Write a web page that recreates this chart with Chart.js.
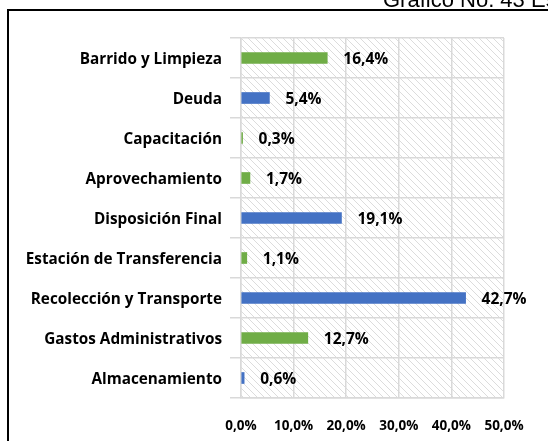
<!DOCTYPE html>
<html lang="es">
<head>
<meta charset="UTF-8">
<title>Gráfico No. 43</title>
<script src="https://cdn.jsdelivr.net/npm/chart.js"></script>
<style>
    html, body { margin: 0; padding: 0; background: #fff; }
    canvas { display: block; }
</style>
</head>
<body>
<canvas id="grafico" width="548" height="441"></canvas>
<script>
    // datos (porcentaje del costo total)
    const categorias = [
        "Barrido y Limpieza",
        "Deuda",
        "Capacitación",
        "Aprovechamiento",
        "Disposición Final",
        "Estación de Transferencia",
        "Recolección y Transporte",
        "Gastos Administrativos",
        "Almacenamiento"
    ];
    const porcentajes = [16.4, 5.4, 0.3, 1.7, 19.1, 1.1, 42.7, 12.7, 0.6];
    const ticksX = [0, 10, 20, 30, 40, 50];
    const tituloTexto = "Gráfico No. 43 Estructura de costos";

    const verde = "#70AD47";
    const azul = "#4472C4";
    const coloresBarras = [verde, azul, verde, verde, azul, verde, azul, verde, azul];
    const gris = "#d9d9d9";
    const fuente = "'Open Sans'";

    const fmt = v => v.toFixed(1).replace(".", ",") + "%";

    function crearTrama() {
        const c = document.createElement("canvas");
        c.width = 7; c.height = 7;
        const g = c.getContext("2d");
        g.fillStyle = "#fff";
        g.fillRect(0, 0, 7, 7);
        g.strokeStyle = "#dcdcdc";
        g.lineWidth = 1;
        g.beginPath();
        g.moveTo(-1, -1); g.lineTo(8, 8);
        g.moveTo(-1, 6); g.lineTo(1, 8);
        g.moveTo(6, -1); g.lineTo(8, 1);
        g.stroke();
        return g.createPattern(c, "repeat");
    }

    const fondoTrama = {
        id: "fondoTrama",
        beforeDraw(chart) {
            const a = chart.chartArea, ctx = chart.ctx;
            ctx.save();
            ctx.fillStyle = crearTrama();
            ctx.fillRect(a.left, a.top, a.right - a.left, a.bottom - a.top);
            ctx.restore();
        }
    };

    const etiquetas = {
        id: "etiquetas",
        afterDatasetsDraw(chart) {
            const ctx = chart.ctx;
            const meta = chart.getDatasetMeta(0);
            ctx.save();
            ctx.font = "bold 15.5px " + fuente;
            ctx.fillStyle = "#000";
            ctx.textAlign = "left";
            ctx.textBaseline = "middle";
            meta.data.forEach((bar, i) => {
                ctx.fillText(fmt(porcentajes[i]), bar.x + 16, bar.y + 2);
            });
            ctx.restore();
        }
    };

    const marco = {
        id: "marco",
        afterDraw(chart) {
            const ctx = chart.ctx;
            ctx.save();
            ctx.strokeStyle = "#000";
            ctx.lineWidth = 2;
            ctx.beginPath();
            ctx.moveTo(8, 441);
            ctx.lineTo(8, 10);
            ctx.lineTo(548, 10);
            ctx.stroke();
            ctx.font = "22px 'Liberation Sans'";
            ctx.fillStyle = "#000";
            ctx.textBaseline = "alphabetic";
            ctx.fillText(tituloTexto, 383, 7);
            ctx.restore();
        }
    };

    new Chart(document.getElementById("grafico").getContext("2d"), {
        type: "bar",
        data: {
            labels: categorias,
            datasets: [{
                data: porcentajes,
                backgroundColor: coloresBarras,
                barThickness: 11
            }]
        },
        options: {
            indexAxis: "y",
            responsive: false,
            animation: false,
            layout: { padding: { left: 0, top: 38, right: 44, bottom: 0 } },
            plugins: {
                legend: { display: false },
                tooltip: { enabled: false }
            },
            scales: {
                x: {
                    min: ticksX[0],
                    max: ticksX[ticksX.length - 1],
                    afterBuildTicks: s => { s.ticks = ticksX.map(v => ({ value: v })); },
                    afterFit: s => { s.height = 43; },
                    grid: { color: gris, lineWidth: 1.5, drawTicks: false },
                    border: { color: gris, width: 1.5 },
                    ticks: {
                        padding: 20,
                        color: "#000",
                        font: { family: fuente, weight: "bold", size: 13.5 },
                        callback: v => fmt(v)
                    }
                },
                y: {
                    afterFit: s => { s.width = 241; },
                    grid: { color: gris, lineWidth: 1.5, tickLength: 11, offset: true },
                    border: { color: gris, width: 1.5 },
                    ticks: {
                        padding: 8,
                        labelOffset: 2,
                        color: "#000",
                        font: { family: fuente, weight: "bold", size: 15.3 }
                    }
                }
            }
        },
        plugins: [fondoTrama, etiquetas, marco]
    });
</script>
</body>
</html>
